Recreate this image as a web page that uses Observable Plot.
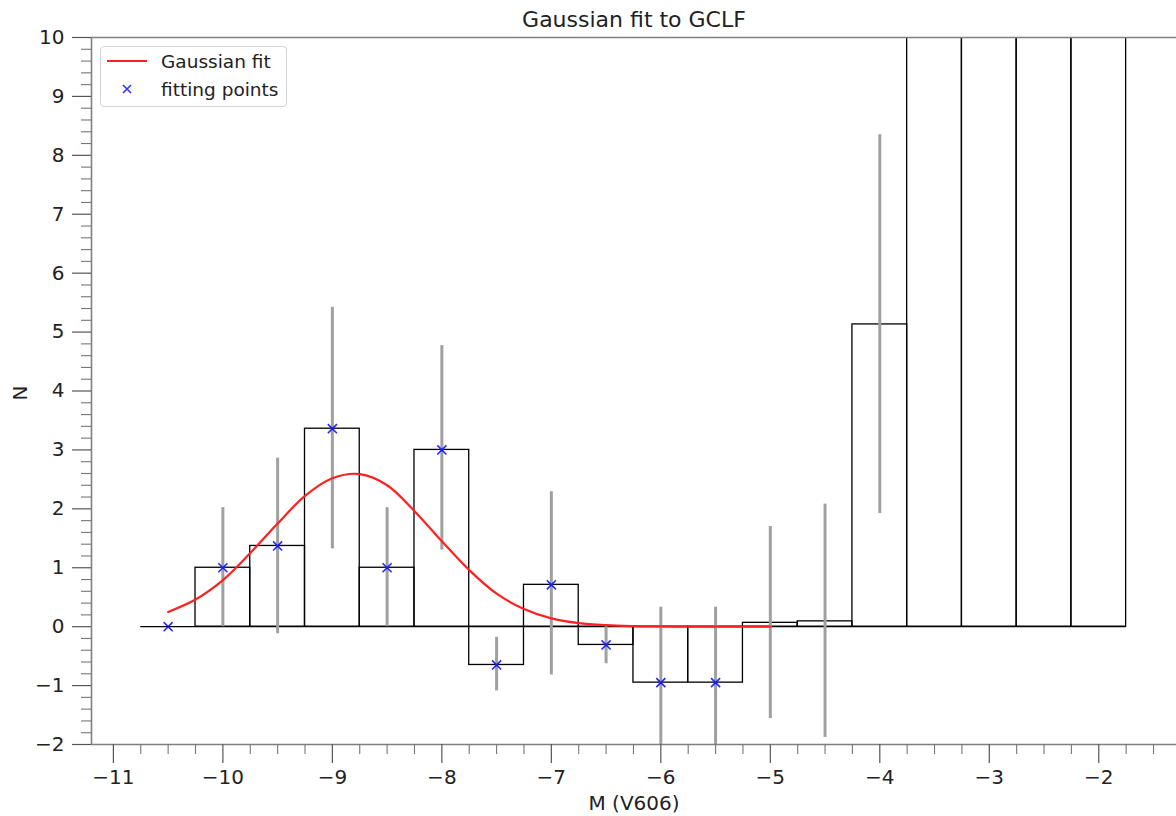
<!DOCTYPE html>
<html>
<head>
<meta charset="utf-8">
<script src="https://cdn.jsdelivr.net/npm/d3@7"></script>
<script src="https://cdn.jsdelivr.net/npm/@observablehq/plot@0.6"></script>
<style>
  html, body { margin: 0; padding: 0; background: white; }
  #wrap { position: relative; width: 1176px; height: 816px; font-family: "DejaVu Sans", sans-serif; }
  #legend { position: absolute; left: 100px; top: 46px; width: 187px; height: 61px;
    border: 1px solid #d4d4d4; border-radius: 4px; background: rgba(255,255,255,0.85);
    font-size: 18.5px; color: #222; box-sizing: border-box; }
  .row { position: absolute; left: 0; height: 24px; display: flex; align-items: center; }
  .row svg { margin-left: 5px; }
  .row span { margin-left: 13px; }
</style>
</head>
<body>
<div id="wrap">
  <div id="chart"></div>
  <div id="legend">
    <div class="row" style="top:2px"><svg width="42" height="10"><line x1="1" y1="5" x2="41" y2="5" stroke="#ff2020" stroke-width="2.2"/></svg><span>Gaussian fit</span></div>
    <div class="row" style="top:30px"><svg width="42" height="10"><path d="M17,1 L25,9 M25,1 L17,9" stroke="blue" stroke-width="1.6" opacity="0.8"/></svg><span>fitting points</span></div>
  </div>
</div>
<script>
// ---- data ----
const binCenters = [-10.5, -10, -9.5, -9, -8.5, -8, -7.5, -7, -6.5, -6, -5.5, -5, -4.5, -4, -3.5, -3, -2.5, -2];
const binCounts  = [0, 1.0, 1.37, 3.36, 1.0, 3.0, -0.65, 0.71, -0.31, -0.95, -0.95, 0.065, 0.09, 5.13, 14, 15, 16, 17];
const binWidth = 0.5;

const errX    = [-10, -9.5, -9, -8.5, -8, -7.5, -7, -6.5, -6, -5.5, -5, -4.5, -4];
const errLow  = [0, -0.12, 1.32, 0, 1.30, -1.09, -0.82, -0.63, -2.23, -2.23, -1.56, -1.88, 1.92];
const errHigh = [2.02, 2.86, 5.42, 2.02, 4.77, -0.18, 2.29, 0.0, 0.33, 0.33, 1.70, 2.08, 8.35];

const fitX = [-10.5, -10, -9.5, -9, -8.5, -8, -7.5, -7, -6.5, -6, -5.5];
const fitY = [0, 1.0, 1.37, 3.36, 1.0, 3.0, -0.65, 0.71, -0.31, -0.95, -0.95];

const curveX = [-10.5, -10.25, -10, -9.75, -9.5, -9.25, -9, -8.75, -8.5, -8.25, -8, -7.75, -7.5, -7.25, -7, -6.75, -6.5, -6.25, -6, -5.75, -5.5, -5.25, -5];
const curveY = [0.25, 0.46, 0.79, 1.25, 1.75, 2.22, 2.52, 2.59, 2.40, 1.96, 1.45, 0.96, 0.56, 0.30, 0.14, 0.06, 0.025, 0.01, 0.004, 0.001, 0, 0, 0];

const xTicks = [-11, -10, -9, -8, -7, -6, -5, -4, -3, -2];
const yTicks = [-2, -1, 0, 1, 2, 3, 4, 5, 6, 7, 8, 9, 10];
const xDomain = [-11.2, -1.29];
const yDomain = [-2, 10];

const titleText = "Gaussian fit to GCLF";
const xLabel = "M (V606)";
const yLabel = "N";

// ---- tables ----
const bins = binCenters.map((c, i) => ({x1: c - binWidth / 2, x2: c + binWidth / 2, y: binCounts[i]}));
const errs = errX.map((x, i) => ({x, lo: errLow[i], hi: errHigh[i]}));
const pts = fitX.map((x, i) => ({x, y: fitY[i]}));
const curve = curveX.map((x, i) => ({x, y: curveY[i]}));
const xMinor = d3.range(xTicks[0] - 1, xTicks[xTicks.length - 1] + 1.001, 0.25).filter(v => v >= xDomain[0] && v <= xDomain[1] && !xTicks.includes(v));
const yMinor = d3.range(yTicks[0], yTicks[yTicks.length - 1] + 0.001, 0.2).map(v => Math.round(v * 10) / 10).filter(v => !yTicks.includes(v));
const fmt = d => d < 0 ? "\u2212" + Math.abs(d) : String(d);
const baseStart = d3.min(bins, d => d.x1), baseEnd = d3.max(bins, d => d.x2);

const chart = Plot.plot({
  width: 1176, height: 816,
  marginLeft: 91, marginRight: 0, marginTop: 37, marginBottom: 72,
  x: {domain: xDomain},
  y: {domain: yDomain},
  style: {fontFamily: "DejaVu Sans, sans-serif", fontSize: "20px", color: "#222", background: "white", overflow: "visible"},
  marks: [
    Plot.rect(bins, {x1: "x1", x2: "x2", y1: 0, y2: "y", fill: "none", stroke: "black", strokeWidth: 1.3, clip: true}),
    Plot.ruleY([0], {x1: baseStart, x2: baseEnd, stroke: "black", strokeWidth: 1.3}),
    Plot.ruleX(errs, {x: "x", y1: "lo", y2: "hi", stroke: "#a0a0a0", strokeWidth: 3, clip: true}),
    Plot.line(curve, {x: "x", y: "y", stroke: "#ff2020", strokeWidth: 2.2, curve: "catmull-rom"}),
    Plot.dot(pts, {x: "x", y: "y", symbol: "times", r: 4.2, stroke: "blue", strokeWidth: 1.6, strokeOpacity: 0.85}),
    // spines
    Plot.ruleX([xDomain[0]], {stroke: "#808080", strokeWidth: 1.6}),
    Plot.ruleY([yDomain[1]], {stroke: "#808080", strokeWidth: 1.6}),
    Plot.ruleY([yDomain[0]], {stroke: "#808080", strokeWidth: 1.6}),
    // axes
    Plot.axisX({ticks: xTicks, tickSize: 19, tickPadding: 6, tickFormat: fmt, label: null, stroke: "#555", strokeWidth: 1.2, fontSize: 20}),
    Plot.axisX({ticks: xMinor, tickSize: 10, tickFormat: () => "", label: null, stroke: "#777", strokeWidth: 1.1}),
    Plot.axisY({ticks: yTicks, tickSize: 19, tickPadding: 8, tickFormat: fmt, label: null, stroke: "#555", strokeWidth: 1.2, fontSize: 20}),
    Plot.axisY({ticks: yMinor, tickSize: 10, tickFormat: () => "", label: null, stroke: "#777", strokeWidth: 1.1}),
    // texts
    Plot.text([titleText], {text: d => d, frameAnchor: "top", dy: -18, lineAnchor: "middle", fontSize: 22, fill: "#222"}),
    Plot.text([xLabel], {text: d => d, frameAnchor: "bottom", dy: 59, lineAnchor: "middle", fontSize: 20, fill: "#222"}),
    Plot.text([yLabel], {text: d => d, frameAnchor: "left", dx: -71, dy: 2, rotate: -90, textAnchor: "middle", lineAnchor: "middle", fontSize: 20, fill: "#222"})
  ]
});
document.getElementById("chart").appendChild(chart);
</script>
</body>
</html>
